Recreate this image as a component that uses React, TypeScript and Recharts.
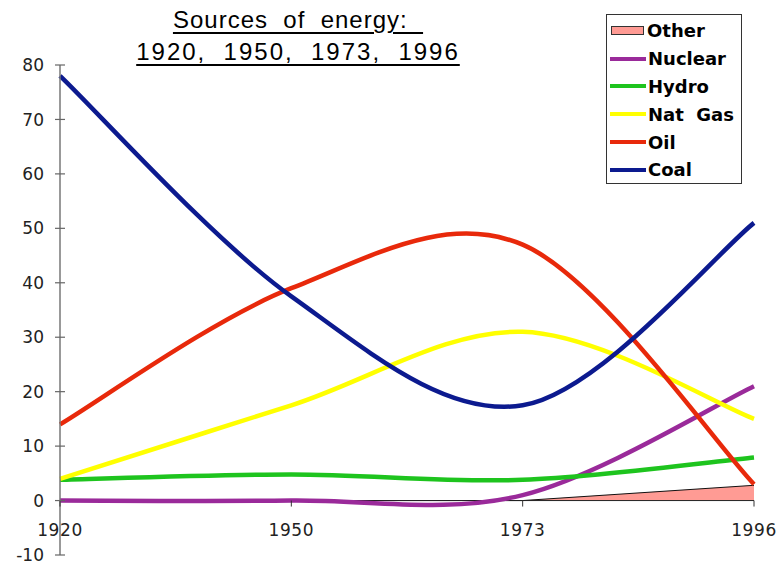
import React from "react";
import {
  ComposedChart,
  Line,
  Area,
  XAxis,
  YAxis,
  ReferenceLine,
  ReferenceDot,
} from "recharts";

const YEARS = ["1920", "1950", "1973", "1996"];
const COAL = [78, 37.5, 17.5, 51];
const OIL = [14, 39, 47, 3];
const NAT_GAS = [4, 17.5, 31, 15];
const HYDRO = [3.8, 4.8, 3.8, 7.9];
const NUCLEAR = [0, 0, 1, 21];
const OTHER = [0, 0, 0, 2.8];
const Y_TICKS = [-10, 0, 10, 20, 30, 40, 50, 60, 70, 80];

const LEGEND_ORDER = ["Other", "Nuclear", "Hydro", "Nat Gas", "Oil", "Coal"];

const COLORS: Record<string, string> = {
  Other: "#ff9b94",
  Nuclear: "#9a2a9a",
  Hydro: "#1ec41e",
  "Nat Gas": "#ffff00",
  Oil: "#e8290b",
  Coal: "#0c1a8f",
};

const data = YEARS.map((year, i) => ({
  year,
  Other: OTHER[i],
  Nuclear: NUCLEAR[i],
  Hydro: HYDRO[i],
  "Nat Gas": NAT_GAS[i],
  Oil: OIL[i],
  Coal: COAL[i],
}));

// excel-style smoothed line (catmull-rom as cubic bezier)
const excelSmooth = (context: any) => {
  let pts: number[][] = [];
  return {
    areaStart() {},
    areaEnd() {},
    lineStart() {
      pts = [];
    },
    lineEnd() {
      const n = pts.length;
      if (!n) return;
      context.moveTo(pts[0][0], pts[0][1]);
      for (let i = 0; i < n - 1; i++) {
        const a = pts[Math.max(i - 1, 0)];
        const b = pts[i];
        const c = pts[i + 1];
        const d = pts[Math.min(i + 2, n - 1)];
        context.bezierCurveTo(
          b[0] + (c[0] - a[0]) / 6,
          b[1] + (c[1] - a[1]) / 6,
          c[0] - (d[0] - b[0]) / 6,
          c[1] - (d[1] - b[1]) / 6,
          c[0],
          c[1]
        );
      }
    },
    point(x: number, y: number) {
      pts.push([+x, +y]);
    },
  };
};

const FONT = "'DejaVu Sans', Verdana, sans-serif";

function YTick({ x, y, payload }: any) {
  return (
    <g>
      <line x1={x - 5} x2={x + 5} y1={y} y2={y} stroke="#666" strokeWidth={1.2} />
      <text
        x={x - 16}
        y={y}
        dy="0.36em"
        textAnchor="end"
        fontSize={17}
        fontFamily={FONT}
        fill="#222"
      >
        {payload.value}
      </text>
    </g>
  );
}

function YearTick({ cx, cy, label }: any) {
  return (
    <g>
      <line x1={cx} x2={cx} y1={cy} y2={cy + 6} stroke="#333" strokeWidth={1} />
      <text
        x={cx}
        y={cy + 29}
        dy="0.36em"
        textAnchor="middle"
        fontSize={17}
        fontFamily={FONT}
        letterSpacing={0.6}
        fill="#222"
      >
        {label}
      </text>
    </g>
  );
}

function LegendBox() {
  return (
    <div
      style={{
        position: "absolute",
        left: 606,
        top: 14,
        width: 136,
        height: 170,
        boxSizing: "border-box",
        border: "1px solid #333",
        background: "#fff",
        paddingTop: 2,
        fontFamily: FONT,
        fontWeight: "bold",
        fontSize: 18,
      }}
    >
      {LEGEND_ORDER.map((name) => (
        <div
          key={name}
          style={{ height: 27.8, display: "flex", alignItems: "center" }}
        >
          {name === "Other" ? (
            <div
              style={{
                marginLeft: 4,
                width: 33,
                height: 9,
                boxSizing: "border-box",
                border: "1.5px solid #333",
                background: COLORS.Other,
              }}
            />
          ) : (
            <div
              style={{
                marginLeft: 3,
                width: 36,
                height: 4,
                background: COLORS[name],
              }}
            />
          )}
          <span style={{ marginLeft: name === "Other" ? 3 : 2, whiteSpace: "pre" }}>
            {name === "Nat Gas" ? "Nat  Gas" : name}
          </span>
        </div>
      ))}
    </div>
  );
}

export default function App() {
  return (
    <div
      style={{
        position: "absolute",
        left: 0,
        top: 0,
        width: 782,
        height: 571,
        background: "#fff",
      }}
    >
      <div
        style={{
          position: "absolute",
          left: 96,
          top: 4,
          width: 404,
          textAlign: "center",
          fontFamily: "'Liberation Sans', Arial, sans-serif",
          fontSize: 24,
          lineHeight: "32px",
          color: "#000",
          whiteSpace: "pre",
          textDecoration: "underline",
          textDecorationThickness: "1.5px",
          textUnderlineOffset: "4px",
        }}
      >
        <div style={{ letterSpacing: 1 }}>{"Sources  of  energy:  "}</div>
        <div style={{ letterSpacing: 2 }}>{"1920,  1950,  1973,  1996"}</div>
      </div>

      <ComposedChart
        width={782}
        height={571}
        data={data}
        margin={{ top: 65, right: 28, bottom: 16, left: 0 }}
      >
        <XAxis
          dataKey="year"
          type="category"
          scale="point"
          padding={{ left: 0, right: 0 }}
          hide
        />
        <YAxis
          type="number"
          domain={[-10, 80]}
          ticks={Y_TICKS}
          interval={0}
          width={60}
          tickSize={0}
          tickMargin={0}
          tickLine={false}
          axisLine={{ stroke: "#777", strokeWidth: 1.5 }}
          tick={<YTick />}
        />
        <Area
          dataKey="Other"
          type="linear"
          baseValue={0}
          fill={COLORS.Other}
          fillOpacity={1}
          stroke="#111"
          strokeWidth={1}
          isAnimationActive={false}
        />
        <ReferenceLine y={0} stroke="#222" strokeWidth={1} />
        {LEGEND_ORDER.filter((n) => n !== "Other").map((name) => (
          <Line
            key={name}
            dataKey={name}
            type={excelSmooth as any}
            stroke={COLORS[name]}
            strokeWidth={4.5}
            dot={false}
            activeDot={false}
            isAnimationActive={false}
          />
        ))}
        {YEARS.map((year) => (
          <ReferenceDot
            key={year}
            x={year}
            y={0}
            ifOverflow="visible"
            shape={(props: any) => <YearTick {...props} label={year} />}
          />
        ))}
      </ComposedChart>

      <LegendBox />
    </div>
  );
}
